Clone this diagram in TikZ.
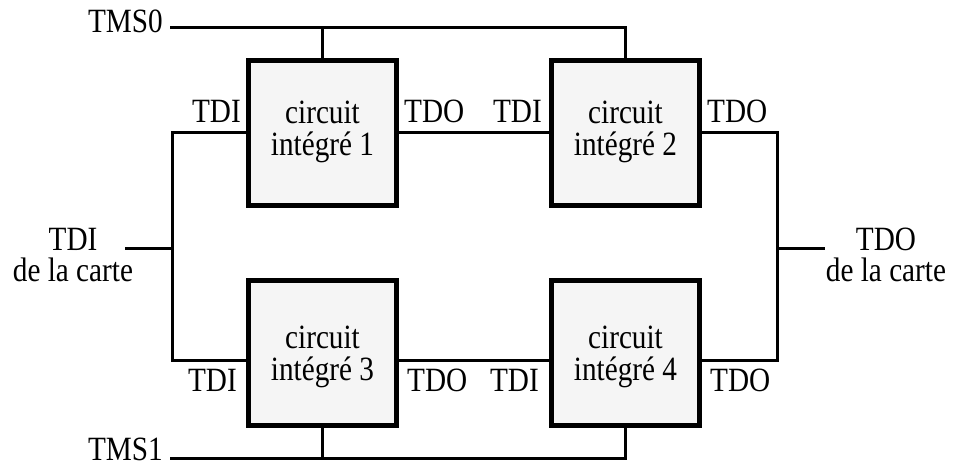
\documentclass[tikz,border=0pt]{standalone}
\usepackage{fontspec}
\setmainfont{Liberation Serif}[FakeStretch=0.86]
\begin{document}
\begin{tikzpicture}[x=1pt,y=-1pt,
  chip/.style={draw=black,fill=black!4,line width=5pt,minimum width=148pt,minimum height=145pt,inner sep=0pt},
  wire/.style={draw=black,line width=3pt},
  lbl/.style={inner sep=0pt,font=\fontsize{34}{31}\selectfont}]
\useasboundingbox (0,0) rectangle (953,468);
% chips
\node[chip] (b1) at (322.5,133) {};
\node[chip] (b2) at (625.5,133) {};
\node[chip] (b3) at (322.5,353) {};
\node[chip] (b4) at (625.5,353) {};
% chip texts
\node[lbl,anchor=base] (b1a) at (322.5,124) {circuit};
\node[lbl,anchor=base] (b1b) at (322.5,155) {intégré 1};
\node[lbl,anchor=base] (b2a) at (625.5,124) {circuit};
\node[lbl,anchor=base] (b2b) at (625.5,155) {intégré 2};
\node[lbl,anchor=base] (b3a) at (322.5,348) {circuit};
\node[lbl,anchor=base] (b3b) at (322.5,380) {intégré 3};
\node[lbl,anchor=base] (b4a) at (625.5,348) {circuit};
\node[lbl,anchor=base] (b4b) at (625.5,380) {intégré 4};
% junctions and free ends
\coordinate (tms0) at (170,28);
\coordinate (tms1) at (170,458);
\coordinate (jl) at (172,248);
\coordinate (jr) at (777,248);
\coordinate (tdiin) at (125,248);
\coordinate (tdoout) at (825,248);
% wires
\draw[wire] (tms0) -| (b2.north);
\draw[wire] (b1.north) -- (b1.north |- tms0);
\draw[wire] (tms1) -| (b4.south);
\draw[wire] (b3.south) -- (b3.south |- tms1);
\draw[wire] (b1.west) -| (jl) |- ([yshift=-7pt]b3.west);
\draw[wire] (tdiin) -- (jl);
\draw[wire] (b2.east) -| (jr) |- ([yshift=-7pt]b4.east);
\draw[wire] (jr) -- (tdoout);
\draw[wire] (b1.east) -- (b2.west);
\draw[wire] ([yshift=-7pt]b3.east) -- ([yshift=-7pt]b4.west);
% pin labels
\node[lbl,anchor=base east] (l0) at (163,33) {TMS0};
\node[lbl,anchor=base east] (l1) at (163,460) {TMS1};
\node[lbl,anchor=base east] (p1i) at (241,123) {TDI};
\node[lbl,anchor=base west] (p1o) at (404,123) {TDO};
\node[lbl,anchor=base east] (p2i) at (542,123) {TDI};
\node[lbl,anchor=base west] (p2o) at (707,123) {TDO};
\node[lbl,anchor=base east] (p3i) at (237,391) {TDI};
\node[lbl,anchor=base west] (p3o) at (407,391) {TDO};
\node[lbl,anchor=base east] (p4i) at (539,391) {TDI};
\node[lbl,anchor=base west] (p4o) at (710,391) {TDO};
% board labels
\node[lbl,align=center,anchor=south] (ci) at (73,282) {TDI\\de la carte};
\node[lbl,align=center,anchor=south] (co) at (886,282) {TDO\\de la carte};
\end{tikzpicture}
\end{document}
